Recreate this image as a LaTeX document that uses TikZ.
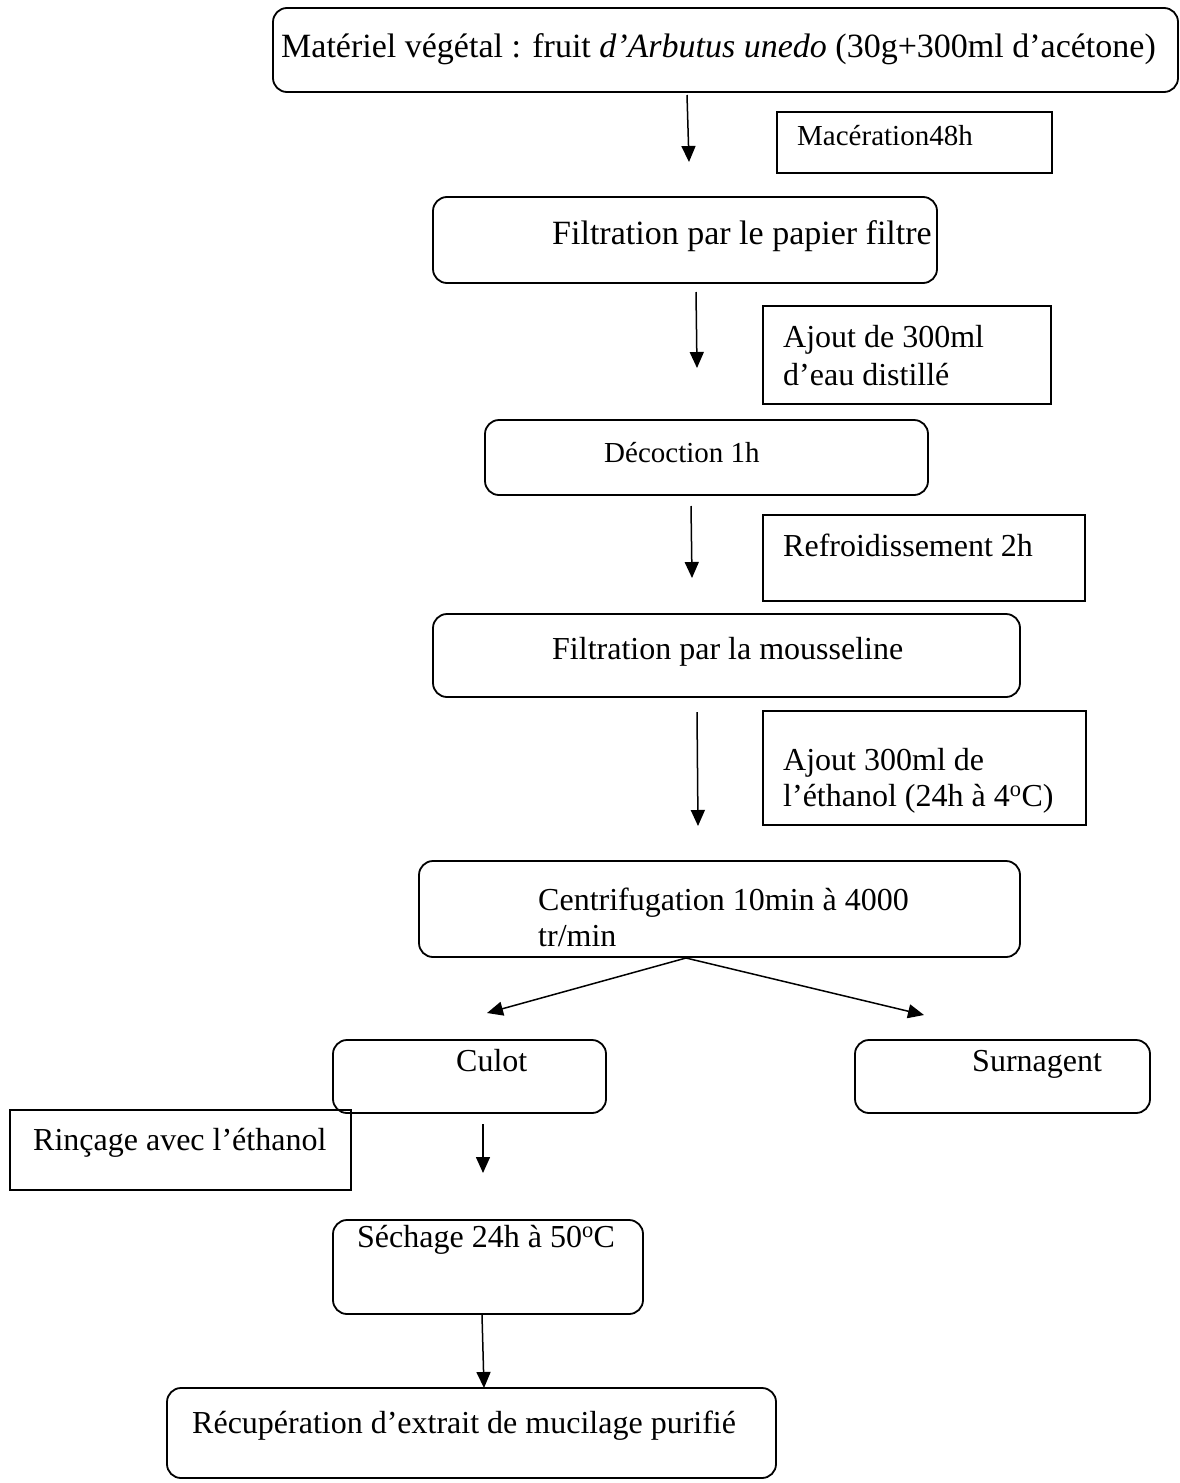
\documentclass[tikz,border=0pt]{standalone}
\usepackage{fontspec}
\setmainfont{Liberation Serif}
\usetikzlibrary{arrows.meta}
\begin{document}
\begin{tikzpicture}[x=1pt,y=-1pt,
  rbox/.style={draw,line width=1.8pt,rounded corners=14pt},
  sbox/.style={draw,line width=1.8pt},
  btxt/.style={anchor=base west,inner sep=0pt,font=\fontsize{34}{40}\selectfont},
  txt/.style={anchor=base west,inner sep=0pt,font=\fontsize{32}{38}\selectfont},
  stxt/.style={anchor=base west,inner sep=0pt,font=\fontsize{29}{37}\selectfont},
  arr/.style={line width=1.5pt,-{Triangle[length=16pt,width=14pt]}}]
\useasboundingbox (0,0) rectangle (1180,1483);
% boxes
\draw[rbox] (273,8) rectangle (1178,92);
\node[btxt] (t1) at (281,57) {Matériel végétal : fruit \textit{d’Arbutus unedo} (30g+300ml d’acétone)};
\draw[sbox] (777,112) rectangle (1052,173);
\node[stxt] (t1a) at (797,145) {Macération48h};
\draw[rbox] (433,197) rectangle (937,283);
\node[btxt] (t2) at (552,244) {Filtration par le papier filtre};
\draw[sbox] (763,306) rectangle (1051,404);
\node[txt] (t2a) at (783,347) {Ajout de 300ml};
\node[txt] (t2b) at (783,385) {d’eau distillé};
\draw[rbox] (485,420) rectangle (928,495);
\node[stxt] (t3) at (604,462) {Décoction 1h};
\draw[sbox] (763,515) rectangle (1085,601);
\node[txt] (t3a) at (783,556) {Refroidissement 2h};
\draw[rbox] (433,614) rectangle (1020,697);
\node[txt] (t4) at (552,659) {Filtration par la mousseline};
\draw[sbox] (763,711) rectangle (1086,825);
\node[txt] (t4a) at (783,770) {Ajout 300ml de};
\node[txt] (t4b) at (783,806) {l’éthanol (24h à 4\textsuperscript{o}C)};
\draw[rbox] (419,861) rectangle (1020,957);
\node[txt] (t5) at (538,910) {Centrifugation 10min à 4000};
\node[txt] (t5b) at (538,946) {tr/min};
\draw[rbox] (333,1040) rectangle (606,1113);
\node[txt] (t6) at (456,1071) {Culot};
\draw[rbox] (855,1040) rectangle (1150,1113);
\node[txt] (t7) at (972,1071) {Surnagent};
\draw[sbox] (10,1110) rectangle (351,1190);
\node[txt] (t8) at (33,1150) {Rinçage avec l’éthanol};
\draw[rbox] (333,1220) rectangle (643,1314);
\node[txt] (t9) at (357,1247) {Séchage 24h à 50\textsuperscript{o}C};
\draw[rbox] (167,1388) rectangle (776,1478);
\node[txt] (t10) at (192,1433) {Récupération d’extrait de mucilage purifié};
% arrows
\coordinate (a1s) at (687,95); \coordinate (a1e) at (689,162);
\draw[arr] (a1s) -- (a1e);
\coordinate (a2s) at (696,292); \coordinate (a2e) at (697,368);
\draw[arr] (a2s) -- (a2e);
\coordinate (a3s) at (691,506); \coordinate (a3e) at (692,578);
\draw[arr] (a3s) -- (a3e);
\coordinate (a4s) at (697,712); \coordinate (a4e) at (698,826);
\draw[arr] (a4s) -- (a4e);
\coordinate (bs) at (686,958);
\coordinate (be1) at (487,1013); \coordinate (be2) at (924,1015);
\draw[arr] (bs) -- (be1);
\draw[arr] (bs) -- (be2);
\coordinate (a5s) at (483,1124); \coordinate (a5e) at (483,1173);
\draw[arr] (a5s) -- (a5e);
\coordinate (a6s) at (482,1315); \coordinate (a6e) at (484,1388);
\draw[arr] (a6s) -- (a6e);
\end{tikzpicture}
\end{document}
